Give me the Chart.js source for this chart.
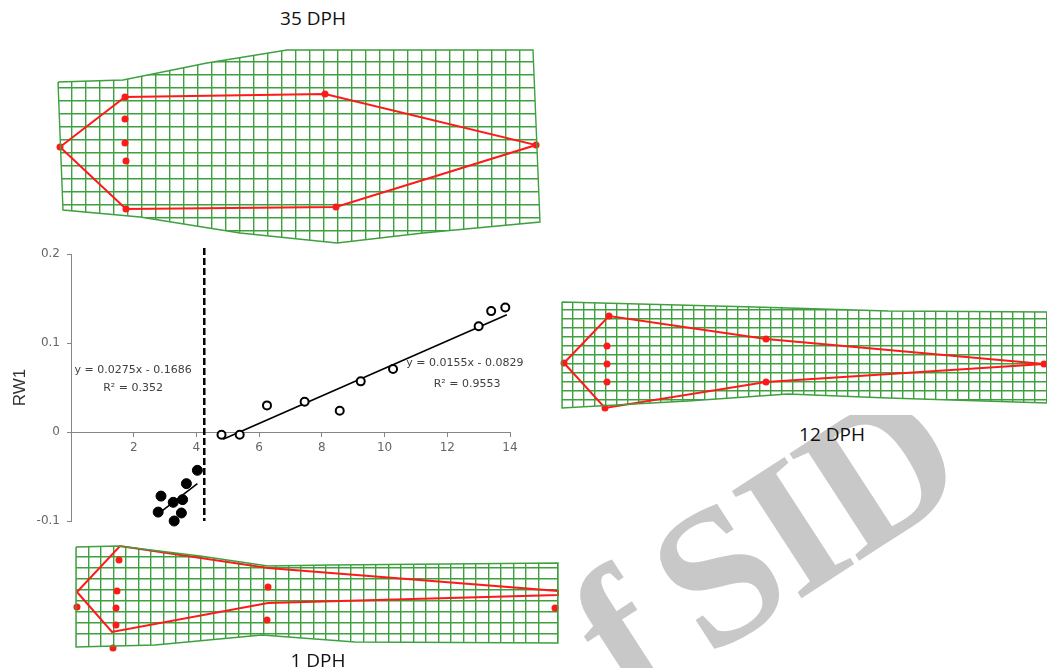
<!DOCTYPE html>
<html>
<head>
<meta charset="utf-8">
<script src="https://cdn.jsdelivr.net/npm/chart.js@4.4.1/dist/chart.umd.min.js"></script>
<style>
  html, body { margin: 0; padding: 0; background: #fff; }
  body { width: 1047px; height: 668px; position: relative; overflow: hidden; }
  canvas { position: absolute; }
  #dph12 { background: #fff; }
  .stage { position: absolute; font: 19px 'Open Sans', sans-serif; color: #111; line-height: 1; white-space: nowrap; transform: translateX(-50%); }
  .wm-anchor { position: absolute; left: 971px; top: 488px; width: 0; height: 0; transform: rotate(-33deg); transform-origin: 0 0; }
  .wm { position: absolute; right: 0; bottom: -32px; font: bold 195px 'Liberation Serif', serif; letter-spacing: -4px; word-spacing: -12px; line-height: 1; color: #c8c8c8; white-space: nowrap; }
</style>
</head>
<body>
<div class="wm-anchor"><div class="wm">f SID</div></div>

<canvas id="rw" width="540" height="300" style="left:0;top:240px"></canvas>
<canvas id="dph35" width="495" height="207" style="left:52px;top:43px"></canvas>
<canvas id="dph12" width="497" height="120" style="left:556px;top:295px"></canvas>
<canvas id="dph1" width="494" height="114" style="left:70px;top:540px"></canvas>

<div class="stage" style="left:313px;top:9px">35 DPH</div>
<div class="stage" style="left:832px;top:425px">12 DPH</div>
<div class="stage" style="left:318px;top:651px">1 DPH</div>

<script>
// RW1 vs standard length (scatter)
const earlyX = [4.03, 3.68, 2.87, 3.26, 3.56, 2.78, 3.52, 3.29];
const earlyY = [-0.043, -0.058, -0.072, -0.079, -0.076, -0.090, -0.091, -0.100];
const lateX = [4.80, 5.38, 6.25, 7.45, 8.57, 9.24, 10.27, 13.00, 13.40, 13.85];
const lateY = [-0.003, -0.003, 0.030, 0.034, 0.024, 0.057, 0.071, 0.119, 0.136, 0.140];
const fit1X = [2.78, 4.03];
const fit1Y = [-0.092, -0.058];
const fit2X = [4.85, 13.9];
const fit2Y = [-0.008, 0.132];
const cutX = [4.25, 4.25];
const cutY = [0.207, -0.1];
const xTicks = [2, 4, 6, 8, 10, 12, 14];
const yTicks = [-0.1, 0, 0.1, 0.2];
const eqnText = ['y = 0.0275x - 0.1686', 'R² = 0.352', 'y = 0.0155x - 0.0829', 'R² = 0.9553'];

// deformation grids: landmarks, outline of the warped mesh, red shape
const lm35X = [2, 67, 67, 67, 68, 68, 267, 278, 478];
const lm35Y = [98, 48, 70, 94, 112, 160, 45, 158, 96];
const shape35X = [2, 67, 267, 478, 278, 68];
const shape35Y = [98, 48, 45, 96, 158, 160];
const mesh35X = [0, 65, 149, 229, 475, 482, 365, 279, 182, 82, 5];
const mesh35Y = [33, 31, 14, 1, 1, 173, 184, 194, 184, 168, 161];

const lm12X = [2, 47, 45, 45, 45, 43, 204, 204, 482];
const lm12Y = [62, 15, 45, 63, 81, 107, 38, 81, 63];
const shape12X = [2, 47, 204, 482, 204, 43];
const shape12Y = [62, 15, 38, 63, 81, 107];
const mesh12X = [0, 193, 326, 485, 485, 326, 226, 126, 0];
const mesh12Y = [1, 6, 10, 11, 102, 97, 93, 100, 107];

const lm1X = [1, 43, 41, 40, 40, 37, 192, 191, 479];
const lm1Y = [61, 14, 45, 62, 79, 102, 41, 74, 62];
const shape1X = [1, 44, 192, 482, 482, 192, 36];
const shape1Y = [46, 0, 22, 45, 49, 57, 86];
const mesh1X = [0, 42, 124, 192, 254, 482, 482, 279, 186, 79, 0];
const mesh1Y = [1, 0, 10, 20, 19, 17, 97, 96, 89, 99, 101];

const GREEN = 'rgb(62, 160, 62)';
const RED = '#ff1a1a';
const AXIS = '#868686';

const pts = (xs, ys) => xs.map((x, i) => ({ x, y: ys[i] }));
const closed = (xs, ys) => {
  const d = pts(xs, ys);
  return d.concat([d[0]]);
};

const eqnLabels = {
  id: 'eqnLabels',
  afterDatasetsDraw(chart, args, opts) {
    const { ctx, scales: { x, y } } = chart;
    ctx.save();
    ctx.font = '11px "DejaVu Sans"';
    ctx.fillStyle = '#404040';
    ctx.textAlign = 'center';
    ctx.textBaseline = 'middle';
    eqnText.forEach((t, i) => {
      const [vx, vy] = opts.at[i];
      ctx.fillText(t, x.getPixelForValue(vx), y.getPixelForValue(vy));
    });
    ctx.restore();
  },
};

new Chart(document.getElementById('rw'), {
  type: 'scatter',
  data: {
    datasets: [
      { data: pts(earlyX, earlyY), pointRadius: 5, backgroundColor: '#000', borderColor: '#000', borderWidth: 1, clip: false },
      { data: pts(lateX, lateY), pointRadius: 4, backgroundColor: '#fff', borderColor: '#000', borderWidth: 2, clip: false },
      { data: pts(fit1X, fit1Y), showLine: true, borderColor: '#000', borderWidth: 1.6, pointRadius: 0, clip: false },
      { data: pts(fit2X, fit2Y), showLine: true, borderColor: '#000', borderWidth: 1.6, pointRadius: 0, clip: false },
      { data: pts(cutX, cutY), showLine: true, borderColor: '#000', borderWidth: 2.5, borderDash: [7, 3], pointRadius: 0, clip: false },
    ],
  },
  options: {
    responsive: false,
    animation: false,
    events: [],
    layout: { padding: { left: 6, top: 11, right: 30, bottom: 19 } },
    plugins: {
      legend: { display: false },
      tooltip: { enabled: false },
      eqnLabels: { at: [[1.98, 0.070], [1.98, 0.049], [12.56, 0.077], [12.63, 0.054]] },
    },
    scales: {
      x: {
        type: 'linear',
        position: { y: 0 },
        min: 0,
        max: 14,
        afterBuildTicks(scale) { scale.ticks = xTicks.map(v => ({ value: v })); },
        afterFit(scale) { scale.height = 0; },
        ticks: { color: '#666', font: { family: 'DejaVu Sans', size: 12 }, padding: 5, callback: v => `${v}` },
        grid: { display: true, drawOnChartArea: false, tickLength: 4, color: AXIS },
        border: { color: AXIS },
      },
      y: {
        type: 'linear',
        min: -0.1,
        max: 0.2,
        afterBuildTicks(scale) { scale.ticks = yTicks.map(v => ({ value: v })); },
        afterFit(scale) { scale.width = 65; },
        ticks: { color: '#666', font: { family: 'DejaVu Sans', size: 12 }, padding: 7, callback: v => `${v}` },
        grid: { display: true, drawOnChartArea: false, tickLength: 4, color: AXIS },
        border: { color: AXIS },
        title: { display: true, text: 'RW1', color: '#333', font: { family: 'Liberation Sans', size: 17 } },
      },
    },
  },
  plugins: [eqnLabels],
});

// keep the square grid inside the warped outline, then draw shape on top
const meshClip = {
  id: 'meshClip',
  beforeDraw(chart) {
    const { ctx, scales: { x, y } } = chart;
    ctx.save();
    ctx.beginPath();
    chart.data.datasets[0].data.forEach((p, i) => {
      const px = x.getPixelForValue(p.x);
      const py = y.getPixelForValue(p.y);
      if (i) ctx.lineTo(px, py);
      else ctx.moveTo(px, py);
    });
    ctx.closePath();
    ctx.clip();
  },
  beforeDatasetsDraw(chart) {
    chart.ctx.restore();
  },
};

function gridPanel(id, mesh, shape, marks, size) {
  const gridScale = (max, step, reverse) => ({
    type: 'linear',
    min: 0,
    max,
    reverse,
    ticks: { display: false, stepSize: step },
    grid: { color: GREEN, lineWidth: 1.4, drawTicks: false },
    border: { display: false },
  });
  return new Chart(document.getElementById(id), {
    type: 'scatter',
    data: {
      datasets: [
        { data: closed(mesh[0], mesh[1]), showLine: true, borderColor: GREEN, borderWidth: 1.4, pointRadius: 0, clip: false },
        { data: pts(marks[0], marks[1]), pointRadius: 3.5, backgroundColor: RED, borderWidth: 0, clip: false },
        { data: closed(shape[0], shape[1]), showLine: true, borderColor: RED, borderWidth: 2, pointRadius: 0, clip: false },
      ],
    },
    options: {
      responsive: false,
      animation: false,
      events: [],
      layout: { padding: 6 },
      plugins: { legend: { display: false }, tooltip: { enabled: false } },
      scales: {
        x: gridScale(size.w, size.cellW, false),
        y: gridScale(size.h, size.cellH, true),
      },
    },
    plugins: [meshClip],
  });
}

gridPanel('dph35', [mesh35X, mesh35Y], [shape35X, shape35Y], [lm35X, lm35Y], { w: 483, h: 195, cellW: 14, cellH: 13 });
gridPanel('dph12', [mesh12X, mesh12Y], [shape12X, shape12Y], [lm12X, lm12Y], { w: 485, h: 108, cellW: 11, cellH: 9 });
gridPanel('dph1', [mesh1X, mesh1Y], [shape1X, shape1Y], [lm1X, lm1Y], { w: 482, h: 102, cellW: 12.5, cellH: 11 });
</script>
</body>
</html>
